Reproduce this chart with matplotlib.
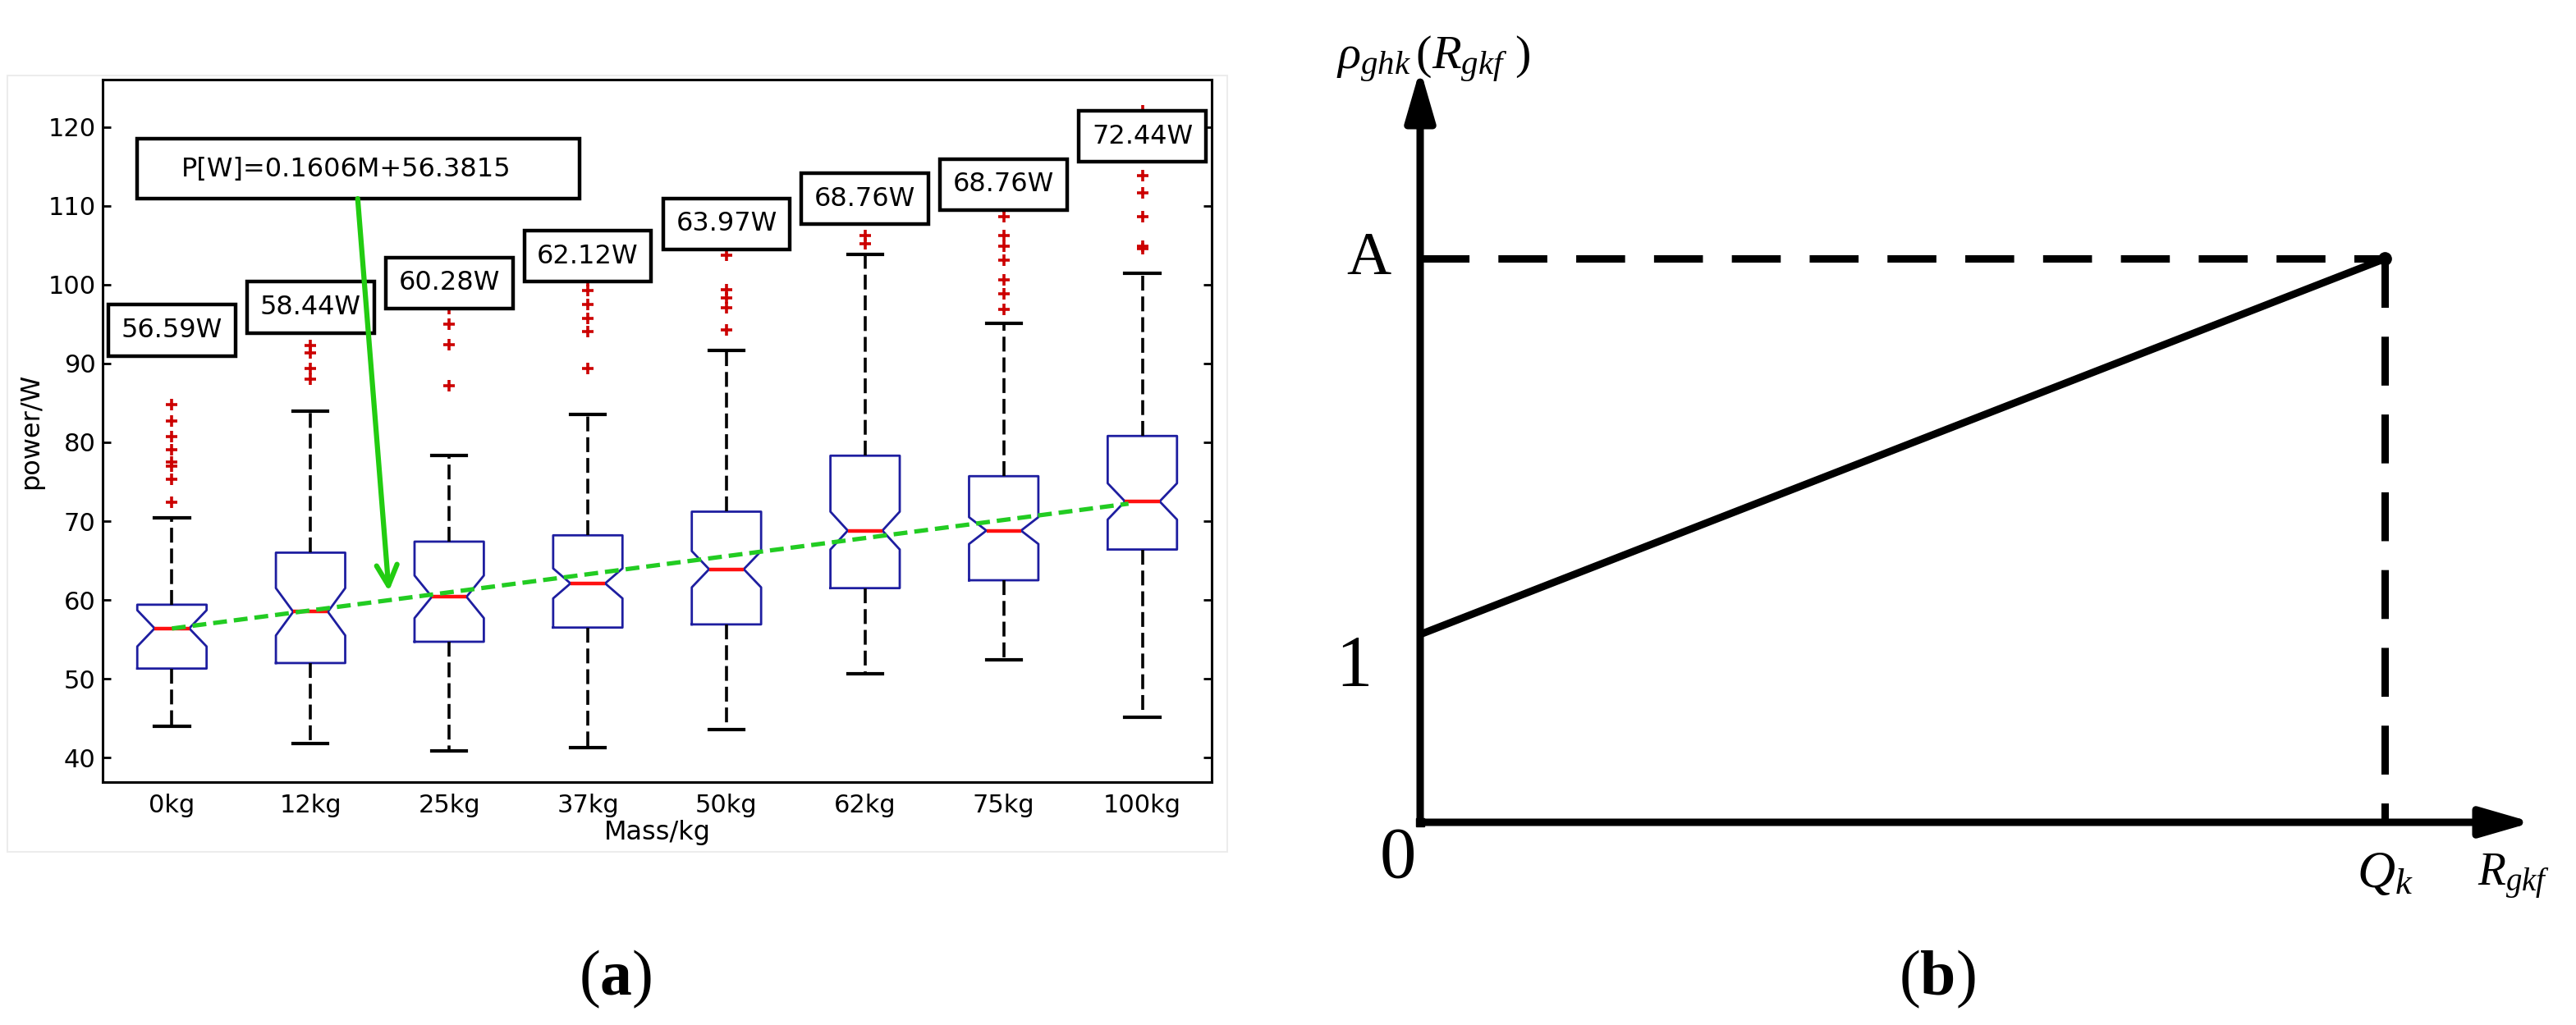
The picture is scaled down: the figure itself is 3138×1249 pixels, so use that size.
import numpy as np
import matplotlib
matplotlib.use('Agg')
import matplotlib.pyplot as plt
from matplotlib.patches import Rectangle

# ---------------- data (panel a) ----------------
mass_labels = ['0kg', '12kg', '25kg', '37kg', '50kg', '62kg', '75kg', '100kg']
whisker_lo = [44.0, 41.8, 40.9, 41.3, 43.6, 50.6, 52.4, 45.1]
q1 = [51.3, 52.0, 54.7, 56.5, 56.9, 61.5, 62.5, 66.4]
median = [56.4, 58.5, 60.4, 62.1, 63.9, 68.8, 68.8, 72.5]
q3 = [59.4, 66.0, 67.4, 68.2, 71.2, 78.3, 75.7, 80.8]
whisker_hi = [70.4, 84.0, 78.3, 83.5, 91.6, 103.8, 95.1, 101.4]
notch_half = [2.3, 3.0, 2.7, 1.9, 2.3, 2.4, 1.7, 2.3]
outliers = [
    [84.8, 82.7, 80.7, 79.1, 77.5, 77.0, 75.3, 72.4],
    [92.3, 91.3, 89.4, 88.0],
    [97.0, 95.0, 92.4, 87.2],
    [100.5, 99.3, 97.5, 95.7, 94.0, 89.4],
    [103.7, 99.4, 98.3, 97.1, 94.3],
    [106.2, 105.2],
    [109.9, 108.6, 106.2, 104.9, 103.1, 100.6, 98.8, 96.9],
    [122.0, 113.8, 111.6, 108.6, 104.9, 104.6],
]
value_labels = ['56.59W', '58.44W', '60.28W', '62.12W', '63.97W', '68.76W', '68.76W', '72.44W']
label_y = [94.2, 97.1, 100.2, 103.6, 107.7, 110.9, 112.7, 118.8]
fit_slope = 0.1606
fit_intercept = 56.3815
fit_mass = [0, 100]
equation_text = 'P[W]=0.1606M+56.3815'
yticks = [40, 50, 60, 70, 80, 90, 100, 110, 120]

# ---------------- data (panel b) ----------------
q_k = 1.0
level_A = 3.0
level_1 = 1.0

W, H = 3138, 1249
fig = plt.figure(figsize=(W / 100, H / 100), dpi=100)
fig.patch.set_facecolor('white')

plt.rcParams['mathtext.fontset'] = 'custom'
plt.rcParams['mathtext.rm'] = 'Liberation Serif'
plt.rcParams['mathtext.it'] = 'Liberation Serif:italic'
plt.rcParams['mathtext.bf'] = 'Liberation Serif:bold'

# faint frame of the left picture
fig.patches.append(Rectangle((9 / W, 1 - 1038 / H), (1495 - 9) / W, (1038 - 92) / H,
                             transform=fig.transFigure, fill=False, ec='#ececec', lw=1.5))

# ---------------- panel a ----------------
ax = fig.add_axes([125 / W, 1 - 953 / H, 1351 / W, (953 - 97) / H])
positions = np.arange(1, len(mass_labels) + 1)
stats = []
for i in range(len(mass_labels)):
    stats.append(dict(med=median[i], q1=q1[i], q3=q3[i], whislo=whisker_lo[i],
                      whishi=whisker_hi[i], fliers=outliers[i],
                      cilo=median[i] - notch_half[i], cihi=median[i] + notch_half[i]))
ax.bxp(stats, positions=positions, widths=0.5, shownotches=True,
       boxprops=dict(color='#1e1ea0', lw=2.0),
       whiskerprops=dict(color='black', lw=2.6, linestyle=(0, (5, 2))),
       capprops=dict(color='black', lw=3.0),
       medianprops=dict(color='#ff1010', lw=3.2),
       flierprops=dict(marker='+', markeredgecolor='#cc0000', markersize=10, mew=2.6))

# regression line (drawn over category positions)
fit_vals = [fit_intercept + fit_slope * m for m in fit_mass]
x_end = 7.9
y_end = fit_vals[0] + (fit_vals[1] - fit_vals[0]) * (x_end - 1) / (len(mass_labels) - 1)
ax.plot([1, x_end], [fit_vals[0], y_end], color='#22cc22', lw=3.8, dashes=(3.2, 1.6), zorder=6)

# value label boxes
bw, bh = 0.917, 6.5
for p, t, yv in zip(positions, value_labels, label_y):
    ax.add_patch(Rectangle((p - bw / 2, yv - bh / 2), bw, bh, fc='white', ec='black',
                           lw=3.2, zorder=7))
    ax.text(p, yv, t, ha='center', va='center', fontsize=23, zorder=8,
            family='DejaVu Sans')

# equation box + arrow
ax.add_patch(Rectangle((0.75, 110.9), 3.19, 7.6, fc='white', ec='black', lw=3.2, zorder=7))
ax.text(1.07, 114.6, equation_text, ha='left', va='center', fontsize=23, zorder=8)
ax.annotate('', xy=(2.565, 61.1), xytext=(2.34, 110.9),
            arrowprops=dict(arrowstyle='->,head_length=0.9,head_width=0.45', lw=4.5,
                            color='#22cc11', shrinkA=0, shrinkB=0, mutation_scale=20),
            zorder=9)

ax.set_xlim(0.5, 8.5)
ax.set_ylim(36.9, 126.0)
ax.set_yticks(yticks)
ax.set_xticks(positions)
ax.set_xticklabels(mass_labels)
ax.tick_params(axis='y', direction='in', length=7, width=2, left=True, right=True,
               labelsize=22, pad=6)
ax.tick_params(axis='x', length=0, labelsize=22, pad=10)
for s in ax.spines.values():
    s.set_linewidth(2.2)
ax.set_xlabel('Mass/kg', fontsize=23, labelpad=2)
ax.set_ylabel('power/W', fontsize=23, labelpad=4)

fig.text(750 / W, 1 - 1193 / H, r'$\mathrm{(}\mathbf{a}\mathrm{)}$', ha='center',
         va='center', fontsize=56)

# ---------------- panel b ----------------
x_tip, y_tip = 1.153, 4.01
ax2 = fig.add_axes([1730 / W, 1 - 1002 / H, 1355 / W, 918 / H])
ax2.set_xlim(0, x_tip)
ax2.set_ylim(0, y_tip)
ax2.axis('off')
arrow = dict(arrowstyle='-|>,head_length=3.8,head_width=1.1', lw=6.5, color='black',
             shrinkA=0, shrinkB=0, mutation_scale=10)
ax2.annotate('', xy=(x_tip, 0), xytext=(0, 0), arrowprops=arrow, annotation_clip=False)
ax2.annotate('', xy=(0, y_tip), xytext=(0, 0), arrowprops=arrow, annotation_clip=False)
ax2.plot([0], [0], marker='s', ms=6.5, color='black', clip_on=False)

ax2.plot([0, q_k], [level_1, level_A], color='black', lw=6.5, clip_on=False,
         solid_capstyle='butt')
ax2.plot([0, q_k], [level_A, level_A], color='black', lw=6.5, dashes=(6.6, 3.9),
         clip_on=False)
ax2.plot([q_k, q_k], [level_A, 0], color='black', lw=6.5, dashes=(6.6, 3.9),
         clip_on=False)
ax2.plot([q_k], [level_A], 'o', color='black', ms=11, clip_on=False)

serif = 'Liberation Serif'
fig.text(1628 / W, 1 - 72 / H, r'$\rho_{ghk}\,\mathrm{(}R_{gkf}\ \mathrm{)}$', ha='left',
         va='center', fontsize=42)
fig.text(1667 / W, 1 - 316 / H, 'A', ha='center', va='center', fontsize=54, family=serif)
fig.text(1649 / W, 1 - 814 / H, '1', ha='center', va='center', fontsize=64, family=serif)
fig.text(1703 / W, 1 - 1047 / H, '0', ha='center', va='center', fontsize=64, family=serif)
fig.text(2905 / W, 1 - 1063 / H, r'$Q_k$', ha='center', va='center', fontsize=46)
fig.text(3062 / W, 1 - 1068 / H, r'$R_{gkf}$', ha='center', va='center', fontsize=40)
fig.text(2360 / W, 1 - 1193 / H, r'$\mathrm{(}\mathbf{b}\mathrm{)}$', ha='center',
         va='center', fontsize=56)

fig.savefig('out.png', dpi=100)
